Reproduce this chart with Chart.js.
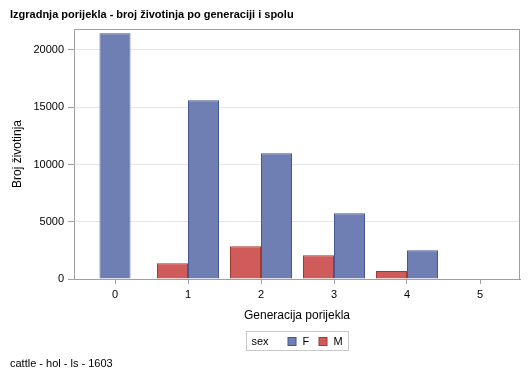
<!DOCTYPE html>
<html>
<head>
<meta charset="utf-8">
<script src="https://cdn.jsdelivr.net/npm/chart.js@4"></script>
<style>
  html, body { margin: 0; padding: 0; background: #fff; }
  #wrap { width: 529px; height: 378px; }
</style>
</head>
<body>
<div id="wrap"><canvas id="c" width="529" height="378"></canvas></div>
<script>
const titleText = 'Izgradnja porijekla - broj životinja po generaciji i spolu';
const footnoteText = 'cattle - hol - ls - 1603';
const xTitle = 'Generacija porijekla';
const yTitle = 'Broj životinja';
const legendTitle = 'sex';
const categories = [0, 1, 2, 3, 4, 5];
const seriesNames = ['F', 'M'];
const valuesF = [21460, 15610, 10980, 5740, 2510, null];
const valuesM = [null, 1370, 2860, 2070, 700, null];
const yTicks = [0, 5000, 10000, 15000, 20000];

const FONT = '"Liberation Sans", Arial, sans-serif';
const colF = '#6F7EB3', edgeF = '#445694';
const colM = '#D05B5B', edgeM = '#A23A2E';
const frameColor = '#A0A0A0';

const framePlugin = {
  id: 'frame',
  afterDatasetsDraw(chart) {
    const a = chart.chartArea, ctx = chart.ctx;
    ctx.save();
    ctx.strokeStyle = frameColor;
    ctx.lineWidth = 1;
    ctx.strokeRect(Math.round(a.left) + 0.5, Math.round(a.top) + 0.5,
                   Math.round(a.right - a.left) - 1, Math.round(a.bottom - a.top));
    ctx.restore();
  }
};

const legendPlugin = {
  id: 'sasLegend',
  afterDraw(chart) {
    const a = chart.chartArea, ctx = chart.ctx;
    const cx = (a.left + a.right) / 2;
    const left = Math.round(cx - 51) + 0.5;
    const top = 331.5;
    ctx.save();
    ctx.strokeStyle = '#C8C8C8';
    ctx.lineWidth = 1;
    ctx.strokeRect(left, top, 102, 19);
    ctx.font = '11px ' + FONT;
    ctx.fillStyle = '#000';
    ctx.textBaseline = 'middle';
    ctx.textAlign = 'left';
    const ty = top + 10;
    ctx.fillText(legendTitle, left + 5, ty);
    const items = [[seriesNames[0], colF, edgeF, 41.5], [seriesNames[1], colM, edgeM, 72.5]];
    for (const [name, fill, edge, off] of items) {
      ctx.fillStyle = fill;
      ctx.fillRect(left + off, top + 6, 8, 8);
      ctx.strokeStyle = edge;
      ctx.strokeRect(left + off, top + 6, 8, 8);
      ctx.fillStyle = '#000';
      ctx.fillText(name, left + off + 14.5, ty);
    }
    ctx.restore();
  }
};

new Chart(document.getElementById('c'), {
  type: 'bar',
  data: {
    datasets: [
      {
        label: seriesNames[1],
        data: categories.map((c, i) => ({ x: c, y: valuesM[i] })),
        backgroundColor: colM, borderColor: edgeM, borderWidth: 1
      },
      {
        label: seriesNames[0],
        data: categories.map((c, i) => ({ x: c, y: valuesF[i] })),
        backgroundColor: colF, borderColor: edgeF, borderWidth: 1
      }
    ]
  },
  options: {
    responsive: false,
    animation: false,
    devicePixelRatio: 1,
    skipNull: true,
    categoryPercentage: 62 / 73,
    barPercentage: 1,
    maxBarThickness: 31,
    inflateAmount: 0,
    layout: { padding: { left: 10, right: 9, top: 0, bottom: 0 } },
    plugins: {
      legend: { display: false },
      tooltip: { enabled: false },
      title: {
        display: true, text: titleText, align: 'start', color: '#000',
        font: { family: FONT, size: 11, weight: 'bold' },
        padding: { top: 8.4, bottom: 7.4 }
      },
      subtitle: {
        display: true, text: footnoteText, align: 'start', position: 'bottom', color: '#000',
        font: { family: FONT, size: 11, weight: 'normal' },
        padding: { top: 33.4, bottom: 7.4 }
      }
    },
    scales: {
      x: {
        type: 'linear',
        offset: false,
        min: -41 / 73, max: -41 / 73 + 446 / 73,
        afterFit(s) { s.height = 45; },
        grid: { display: true, drawOnChartArea: false, offset: false, tickLength: 5, tickColor: frameColor },
        border: { display: true, color: frameColor },
        ticks: {
          stepSize: 1, includeBounds: false, padding: 4, color: '#000', maxRotation: 0,
          font: { family: FONT, size: 11 },
          callback: (v) => categories.includes(v) ? String(v) : ''
        },
        title: { display: true, text: xTitle, color: '#000', font: { family: FONT, size: 12 }, padding: { top: 0, bottom: 1 } }
      },
      y: {
        min: 0, max: 21834,
        afterFit(s) { s.width = 64; },
        afterBuildTicks(s) { s.ticks = yTicks.map(v => ({ value: v })); },
        grid: { color: '#E6E6E6', tickLength: 6, tickColor: frameColor },
        border: { display: true, color: frameColor },
        ticks: {
          stepSize: 5000, includeBounds: false, padding: 4, color: '#000',
          font: { family: FONT, size: 11 },
          callback: (v) => String(v)
        },
        title: { display: true, text: yTitle, color: '#000', font: { family: FONT, size: 12 }, padding: { top: 0.8, bottom: 0 } }
      }
    }
  },
  plugins: [framePlugin, legendPlugin]
});
</script>
</body>
</html>
